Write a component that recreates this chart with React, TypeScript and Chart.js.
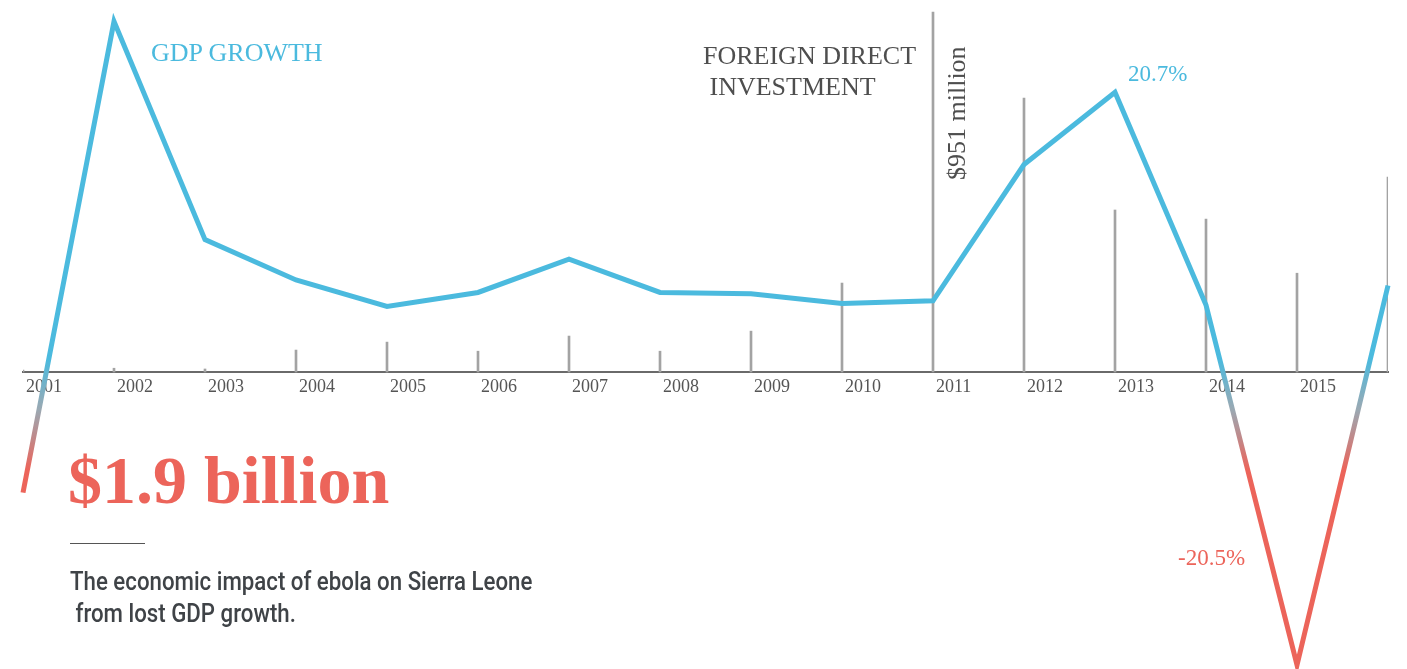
import React, { useEffect, useRef } from "react";
import { Chart, registerables } from "chart.js";

Chart.register(...registerables);

const years = ["2001", "2002", "2003", "2004", "2005", "2006", "2007", "2008", "2009", "2010", "2011", "2012", "2013", "2014", "2015", "2016"];
const gdpGrowth = [-8.1, 25.8, 10.1, 7.2, 5.3, 6.3, 8.7, 6.3, 6.2, 5.5, 5.7, 15.5, 20.7, 5.4, -20.5, 6.8];
const fdiMillions = [5, 10, 8, 58, 79, 55, 95, 55, 108, 235, 951, 724, 428, 404, 261, 515];
const tickLabels = ["2001", "2002", "2003", "2004", "2005", "2006", "2007", "2008", "2009", "2010", "2011", "2012", "2013", "2014", "2015", ""];

const BLUE = "#4bbade";
const RED = "#ec645a";
const GREY_TEXT = "#4e4e4e";
const SERIF = "'Liberation Serif', 'DejaVu Serif', serif";

export default function App() {
  const canvasRef = useRef<HTMLCanvasElement | null>(null);

  useEffect(() => {
    if (!canvasRef.current) return;
    const chart = new Chart(canvasRef.current, {
      type: "line",
      data: {
        labels: years,
        datasets: [
          {
            type: "line",
            label: "GDP growth",
            data: gdpGrowth,
            yAxisID: "y",
            borderWidth: 5,
            pointRadius: 0,
            tension: 0,
            borderJoinStyle: "miter",
            order: 0,
            clip: false as any,
            borderColor: (ctx: any) => {
              const ch = ctx.chart;
              const ys = ch.scales && ch.scales.y;
              if (!ys || !ch.chartArea) return BLUE;
              const top = ys.getPixelForValue(1.5);
              const bot = ys.getPixelForValue(-6.5);
              const g = ch.ctx.createLinearGradient(0, top, 0, bot);
              g.addColorStop(0, BLUE);
              g.addColorStop(0.45, "#9aa9b3");
              g.addColorStop(1, RED);
              return g;
            },
          },
          {
            type: "bar",
            label: "FDI",
            data: fdiMillions,
            yAxisID: "y2",
            backgroundColor: "#a3a3a3",
            barThickness: 2,
            order: 1,
          },
        ],
      },
      options: {
        animation: false,
        responsive: true,
        maintainAspectRatio: false,
        layout: { padding: { left: 23, right: 19, top: 0, bottom: 0 } },
        plugins: { legend: { display: false }, tooltip: { enabled: false } },
        scales: {
          x: {
            type: "category",
            offset: false,
            position: { y2: 0 } as any,
            grid: { display: false },
            border: { display: true, color: "#6a6a6a", width: 2 },
            ticks: {
              autoSkip: false,
              maxRotation: 0,
              align: "start",
              labelOffset: 3,
              padding: -4,
              color: "#555",
              font: { family: SERIF, size: 18 },
              callback: (_v: any, i: number) => tickLabels[i],
            },
          },
          y: {
            display: false,
            min: -20.79,
            max: 27.34,
          },
          y2: {
            display: false,
            min: -784.6,
            max: 982.8,
          },
        },
      },
    });
    return () => chart.destroy();
  }, []);

  const abs = (style: React.CSSProperties): React.CSSProperties => ({
    position: "absolute",
    margin: 0,
    whiteSpace: "nowrap",
    lineHeight: 1,
    ...style,
  });

  return (
    <div style={{ position: "absolute", left: 0, top: 0, width: 1407, height: 669, background: "#fff", overflow: "hidden" }}>
      <canvas ref={canvasRef} />
      <div style={abs({ left: 151, top: 40, color: BLUE, fontFamily: SERIF, fontSize: 26 })}>GDP GROWTH</div>
      <div style={abs({ left: 703, top: 40, color: GREY_TEXT, fontFamily: SERIF, fontSize: 26, lineHeight: "31px" })}>
        FOREIGN DIRECT
        <br />
        &nbsp;INVESTMENT
      </div>
      <div
        style={abs({
          left: 944,
          top: 180,
          color: GREY_TEXT,
          fontFamily: SERIF,
          fontSize: 26,
          transform: "rotate(-90deg)",
          transformOrigin: "0 0",
        })}
      >
        $951 million
      </div>
      <div style={abs({ left: 1128, top: 62, color: BLUE, fontFamily: SERIF, fontSize: 23 })}>20.7%</div>
      <div style={abs({ left: 1178, top: 546, color: RED, fontFamily: SERIF, fontSize: 23 })}>-20.5%</div>
      <div style={abs({ left: 68, top: 446, color: RED, fontFamily: SERIF, fontSize: 68, fontWeight: 700 })}>$1.9 billion</div>
      <div style={abs({ left: 70, top: 543, width: 75, height: 1, background: "#555" })} />
      <div
        style={abs({
          left: 70,
          top: 566,
          color: "#3f4347",
          fontFamily: "'Roboto', sans-serif",
          fontSize: 25,
          fontWeight: 500,
          lineHeight: "32px",
          transform: "scaleX(0.89)",
          transformOrigin: "0 0",
        })}
      >
        The economic impact of ebola on Sierra Leone
        <br />
        &nbsp;from lost GDP growth.
      </div>
    </div>
  );
}
